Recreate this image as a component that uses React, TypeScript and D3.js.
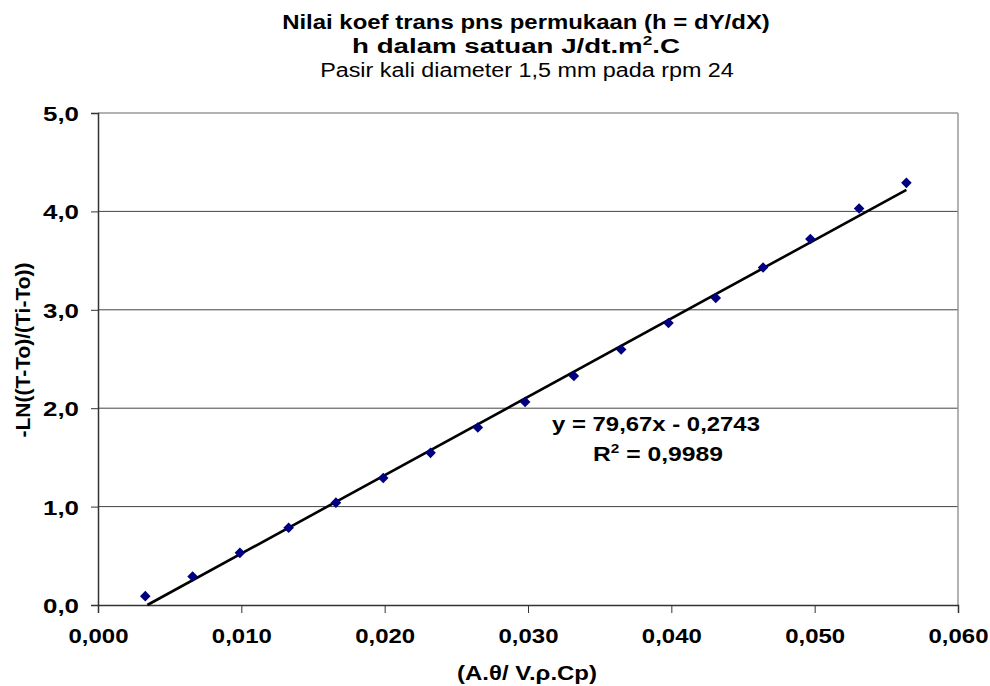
import { useEffect, useRef } from 'react';
import * as d3 from 'd3';

const xValues = [0.0033, 0.0066, 0.0099, 0.0133, 0.0166, 0.0199, 0.0232, 0.0265, 0.0298, 0.0332, 0.0365, 0.0398, 0.0431, 0.0464, 0.0497, 0.0531, 0.0564];
const yValues = [0.09, 0.29, 0.53, 0.785, 1.04, 1.29, 1.546, 1.804, 2.064, 2.328, 2.596, 2.866, 3.12, 3.43, 3.72, 4.03, 4.29];
const xTicks = [0, 0.01, 0.02, 0.03, 0.04, 0.05, 0.06];
const yTicks = [0, 1, 2, 3, 4, 5];
const slope = 79.67;
const intercept = -0.2743;
const rSquared = 0.9989;

const titleLines = ['Nilai koef trans pns permukaan (h = dY/dX)', 'h dalam satuan J/dt.m', 'Pasir kali diameter 1,5 mm pada rpm 24'];

const fmtComma = (v: number, digits: number) => v.toFixed(digits).replace('.', ',');

// stretch text horizontally around its anchor point until it reaches the target width
const stretch = (sel: d3.Selection<any, any, any, any>, target: number) => {
  sel.each(function () {
    const el = this as SVGTextElement;
    const w = el.getComputedTextLength();
    if (!w) return;
    const sx = target / w;
    const ax = +(el.getAttribute('x') || 0);
    const prev = el.getAttribute('transform') || '';
    el.setAttribute('transform', `${prev} translate(${ax},0) scale(${sx},1) translate(${-ax},0)`);
  });
};

const App = () => {
  const ref = useRef<SVGSVGElement>(null);

  useEffect(() => {
    const width = 990;
    const height = 686;
    const margin = { top: 113, right: 32, bottom: 81, left: 98 };
    const font = 'Liberation Sans, Arial, sans-serif';

    const svg = d3.select(ref.current)
      .attr('width', width)
      .attr('height', height);
    svg.selectAll('*').remove();

    const x = d3.scaleLinear().domain([0, 0.06]).range([margin.left, width - margin.right]);
    const y = d3.scaleLinear().domain([0, 5]).range([height - margin.bottom, margin.top]);

    svg.append('rect').attr('width', width).attr('height', height).attr('fill', '#fff');

    // gridlines
    svg.append('g')
      .selectAll('line')
      .data(yTicks.filter((d) => d > 0 && d < 5))
      .enter()
      .append('line')
      .attr('x1', x(0)).attr('x2', x(0.06))
      .attr('y1', (d) => y(d)).attr('y2', (d) => y(d))
      .attr('stroke', '#444').attr('stroke-width', 1);

    // plot frame top and right
    svg.append('line')
      .attr('x1', x(0)).attr('x2', x(0.06)).attr('y1', y(5)).attr('y2', y(5))
      .attr('stroke', '#999').attr('stroke-width', 1.5);
    svg.append('line')
      .attr('x1', x(0.06)).attr('x2', x(0.06)).attr('y1', y(5)).attr('y2', y(0))
      .attr('stroke', '#999').attr('stroke-width', 1.5);

    // axes
    const yAxis = svg.append('g')
      .attr('transform', `translate(${x(0)},0)`)
      .call(d3.axisLeft(y).tickValues(yTicks).tickSize(7).tickPadding(12).tickFormat((d) => fmtComma(+d, 1)));
    const xAxis = svg.append('g')
      .attr('transform', `translate(0,${y(0)})`)
      .call(d3.axisBottom(x).tickValues(xTicks).tickSize(8).tickPadding(15).tickFormat((d) => fmtComma(+d, 3)));

    [xAxis, yAxis].forEach((a) => {
      a.select('.domain').attr('stroke', '#333').attr('stroke-width', 1.5);
      a.selectAll('.tick line').attr('stroke', '#333');
      a.selectAll('.tick text')
        .attr('fill', '#000')
        .style('font-family', font)
        .style('font-size', '21px')
        .style('font-weight', 'bold');
    });
    yAxis.selectAll('.tick text').attr('dy', '0.36em');
    stretch(xAxis.selectAll('.tick text'), 60);
    stretch(yAxis.selectAll('.tick text'), 36);

    // trend line clipped to y >= 0
    const xStart = Math.max(d3.min(xValues)!, -intercept / slope);
    const xEnd = d3.max(xValues)!;
    svg.append('line')
      .attr('x1', x(xStart)).attr('y1', y(slope * xStart + intercept))
      .attr('x2', x(xEnd)).attr('y2', y(slope * xEnd + intercept))
      .attr('stroke', '#000').attr('stroke-width', 2.6);

    // markers
    svg.append('g')
      .selectAll('path')
      .data(xValues.map((v, i) => [v, yValues[i]]))
      .enter()
      .append('path')
      .attr('d', d3.symbol(d3.symbolSquare, 56)())
      .attr('transform', (d) => `translate(${x(d[0])},${y(d[1])}) rotate(45)`)
      .attr('fill', '#000080');

    // titles
    const t = svg.append('g').style('font-family', font).style('font-size', '21px').attr('text-anchor', 'middle');
    const t1 = t.append('text').attr('x', 526).attr('y', 29).style('font-weight', 'bold').text(titleLines[0]);
    const t2 = t.append('text').attr('x', 516).attr('y', 53).style('font-weight', 'bold');
    t2.append('tspan').text(titleLines[1]);
    t2.append('tspan').attr('dy', -8).style('font-size', '13px').text('2');
    t2.append('tspan').attr('dy', 8).text('.C');
    const t3 = t.append('text').attr('x', 527).attr('y', 77).text(titleLines[2]);
    stretch(t1, 488);
    stretch(t2, 328);
    stretch(t3, 414);

    // axis titles
    const xt = svg.append('text')
      .attr('x', 527).attr('y', 680)
      .attr('text-anchor', 'middle')
      .style('font-family', font).style('font-size', '21px').style('font-weight', 'bold')
      .text('(A.θ/ V.ρ.Cp)');
    stretch(xt, 140);
    const yt = svg.append('text')
      .attr('transform', 'translate(30,350) rotate(-90)')
      .attr('text-anchor', 'middle')
      .style('font-family', font).style('font-size', '21px').style('font-weight', 'bold')
      .text('-LN((T-To)/(Ti-To))');
    stretch(yt, 175);

    // equation label
    const eq = svg.append('g').style('font-family', font).style('font-size', '21px').style('font-weight', 'bold').attr('text-anchor', 'middle');
    const e1 = eq.append('text').attr('x', 656).attr('y', 431).text(`y = ${fmtComma(slope, 2)}x - ${fmtComma(-intercept, 4)}`);
    const r2 = eq.append('text').attr('x', 658).attr('y', 461);
    r2.append('tspan').text('R');
    r2.append('tspan').attr('dy', -8).style('font-size', '13px').text('2');
    r2.append('tspan').attr('dy', 8).text(` = ${fmtComma(rSquared, 4)}`);
    stretch(e1, 208);
    stretch(r2, 130);
  }, []);

  return <svg ref={ref} style={{ position: 'absolute', left: 0, top: 0 }}></svg>;
};

export default App;
